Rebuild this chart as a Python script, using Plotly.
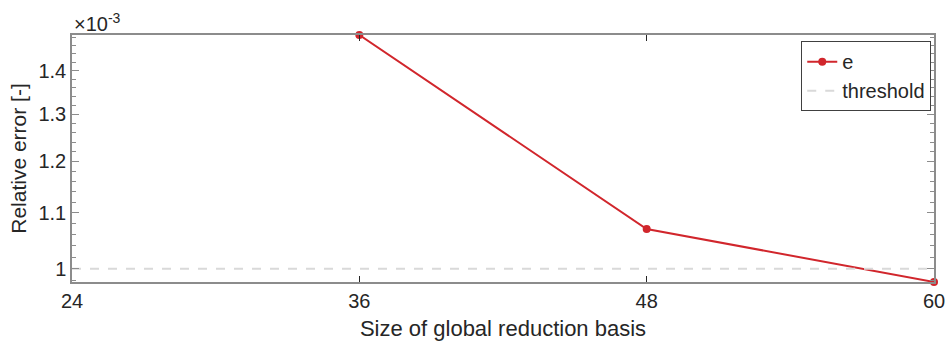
import numpy as np
import plotly.graph_objects as go

basis_size = [36, 48, 60]
rel_error = [1.487e-3, 1.070e-3, 0.978e-3]
threshold_x = [24, 60]
threshold_y = [1e-3, 1e-3]
x_ticks = [24, 36, 48, 60]
y_ticks = [1.0e-3, 1.1e-3, 1.2e-3, 1.3e-3, 1.4e-3]
y_tick_text = ["1", "1.1", "1.2", "1.3", "1.4"]
y_minor = [round(0.98e-3 + i * 0.02e-3, 8) for i in range(26)]

RED = "#d1262c"
AX = "#8c8c8c"
FONT = "Liberation Sans, Arial, sans-serif"

fig = go.Figure()
fig.add_trace(go.Scatter(x=basis_size, y=rel_error, mode="lines+markers", name="e",
                         line=dict(color=RED, width=2), marker=dict(size=8, color=RED),
                         cliponaxis=False))
fig.add_trace(go.Scatter(x=threshold_x, y=threshold_y, mode="lines", name="threshold",
                         line=dict(color="#d9d9d9", width=2, dash="dash")))

eps = 1e-5
fig.update_layout(
    width=949, height=347,
    margin=dict(l=72, r=15, t=35, b=65),
    paper_bgcolor="white", plot_bgcolor="white",
    font=dict(family=FONT, size=20, color="#262626"),
    showlegend=True,
    legend=dict(x=0.846, y=0.975, xanchor="left", yanchor="top",
                bgcolor="white", bordercolor="#404040", borderwidth=1,
                font=dict(size=20, color="#262626"), itemwidth=30,
                tracegroupgap=0),
    xaxis=dict(range=[24, 60], tickvals=x_ticks, ticks="inside", ticklen=6,
               tickcolor="#262626", showline=True, linecolor=AX, linewidth=1.5,
               mirror="ticks", showgrid=False, zeroline=False, automargin=False,
               title=dict(text="Size of global reduction basis", font=dict(size=22), standoff=10),
               tickfont=dict(size=20)),
    yaxis=dict(type="log",
               range=[np.log10(min(rel_error)) - eps, np.log10(max(rel_error)) + eps],
               tickvals=y_ticks, ticktext=y_tick_text, ticks="inside", ticklen=7,
               tickcolor=AX, showline=True, linecolor=AX, linewidth=1.5,
               mirror="ticks", showgrid=False, zeroline=False, automargin=False,
               minor=dict(tickmode="array", tickvals=y_minor, ticks="inside",
                          ticklen=4, tickcolor=AX, showgrid=False),
               title=dict(text="Relative error [-]", font=dict(size=21), standoff=6),
               tickfont=dict(size=20)),
)
fig.add_annotation(text="×10<sup>-3</sup>", xref="paper", yref="paper", x=0, y=1,
                   xanchor="left", yanchor="bottom", showarrow=False,
                   font=dict(size=20, color="#262626"), yshift=-2)

fig.write_html("out.html")
